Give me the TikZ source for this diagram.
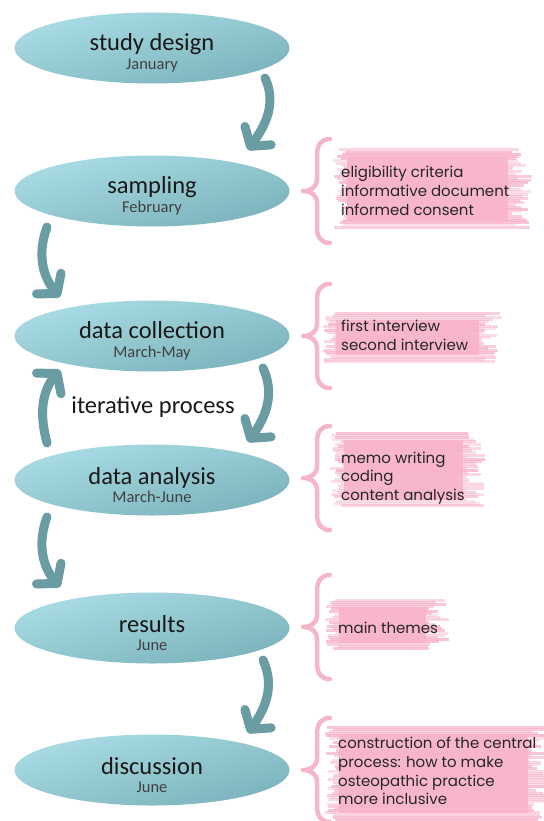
\documentclass[tikz,border=0pt]{standalone}
\usepackage{fontspec}
\setmainfont{Carlito}
\newfontfamily\pinkfont{Poppins}
\usetikzlibrary{shapes.geometric,arrows.meta,calc}
\definecolor{ellA}{HTML}{AADDE5}
\definecolor{ellB}{HTML}{7BB2BB}
\definecolor{arrowc}{HTML}{6A9CA3}
\definecolor{pinkc}{HTML}{F8B4C9}
\definecolor{bracec}{HTML}{F6B6C9}
\newcommand\titlef{\fontsize{24.5}{18.5}\selectfont}
\newcommand\datef{\fontsize{16.5}{18.5}\selectfont\color{black!75}}
\newcommand\topstrut{\rule{0pt}{27pt}}
\tikzset{
  stage/.style={ellipse, minimum width=275pt, minimum height=71pt, inner sep=0pt,
    top color=ellA, bottom color=ellB, shading angle=15, align=center, text=black!90, font=\titlef},
  flow/.style={draw=arrowc, line width=9pt, line cap=round,
    -{Straight Barb[length=13pt,width=32pt,round]}},
  note/.style={anchor=west, align=left, inner sep=0pt, text=black!85,
    font=\pinkfont\fontsize{15}{18.7}\selectfont},
  curly/.style={draw=bracec, line width=4.5pt, line cap=round, line join=round},
  plain/.style={font=\titlef, text=black!90, inner sep=0pt}
}
\newcommand\pinkbrush[4]{%
  \pgfmathsetseed{#2}%
  \fill[pinkc, opacity=0.9] (#1+14,-#2-7) rectangle (#3-24,-#4+7);
  \pgfmathtruncatemacro\nlines{(#4-#2)/2.2}%
  \foreach \k in {0,...,\nlines}{%
    \pgfmathsetmacro\yy{#2+\k*2.2}%
    \pgfmathsetmacro\xs{#1+rnd*14}%
    \pgfmathsetmacro\xe{#3-rnd*22}%
    \pgfmathsetmacro\op{0.35+0.5*rnd}%
    \draw[pinkc, line width=3pt, opacity=\op] (\xs,-\yy) -- (\xe,-\yy);
  }%
}
\newcommand\curlybrace[1]{%
  \draw[curly] (330,-#1+52) .. controls (321,-#1+52) and (317,-#1+46) .. (317,-#1+36)
    -- (317,-#1+12) .. controls (317,-#1+4) and (311,-#1) .. (303,-#1)
    .. controls (311,-#1) and (317,-#1-4) .. (317,-#1-12)
    -- (317,-#1-36) .. controls (317,-#1-46) and (321,-#1-52) .. (330,-#1-52);%
}
\begin{document}
\begin{tikzpicture}[x=1pt,y=1pt]
\useasboundingbox (0,0) rectangle (543,-821);
\fill[white] (0,0) rectangle (543,-821);

% ellipses
\node[stage] (e1) at (152,-48)  {\topstrut study design\\{\datef January}};
\node[stage] (e2) at (152,-191) {\topstrut sampling\\{\datef February}};
\node[stage] (e3) at (152,-336) {\topstrut data collection\\{\datef March-May}};
\node[stage] (e4) at (152,-480) {\topstrut data analysis\\{\datef March-June}};
\node[stage] (e5) at (152,-628) {\topstrut results\\{\datef June}};
\node[stage] (e6) at (152,-770) {\topstrut discussion\\{\datef June}};
\node[plain] (it) at (153,-407) {iterative process};

% arrows
\draw[flow] ($(e1)+(113,-30)$) to[out=-65, in=55] ($(e2)+(96,41)$);
\draw[flow] ($(e2)+(-105,-36)$) to[out=-110, in=130] ($(e3)+(-92,39)$);
\draw[flow] ($(e3)+(111,-32)$) to[out=-65, in=55] ($(e4)+(96,38)$);
\draw[flow] ($(e4)+(-105,37)$) to[out=105, in=-130] ($(e3)+(-92,-34)$);
\draw[flow] ($(e4)+(-105,-37)$) to[out=-110, in=130] ($(e5)+(-92,41)$);
\draw[flow] ($(e5)+(111,-32)$) to[out=-65, in=55] ($(e6)+(96,37)$);

% pink highlights
\pinkbrush{333}{150}{532}{228}
\pinkbrush{322}{313}{503}{362}
\pinkbrush{330}{433}{487}{507}
\pinkbrush{325}{600}{450}{650}
\pinkbrush{325}{727}{552}{820}

% braces
\curlybrace{191}
\curlybrace{336}
\curlybrace{478}
\curlybrace{627}
\curlybrace{770}

% notes
\node[note] (t1) at (341,-191) {eligibility criteria\\informative document\\informed consent};
\node[note] (t2) at (341,-335) {first interview\\second interview};
\node[note] (t3) at (341,-478) {memo writing\\coding\\content analysis};
\node[note] (t4) at (338,-628) {main themes};
\node[note] (t5) at (338,-771) {construction of the central\\process: how to make\\osteopathic practice\\more inclusive};
\end{tikzpicture}
\end{document}
